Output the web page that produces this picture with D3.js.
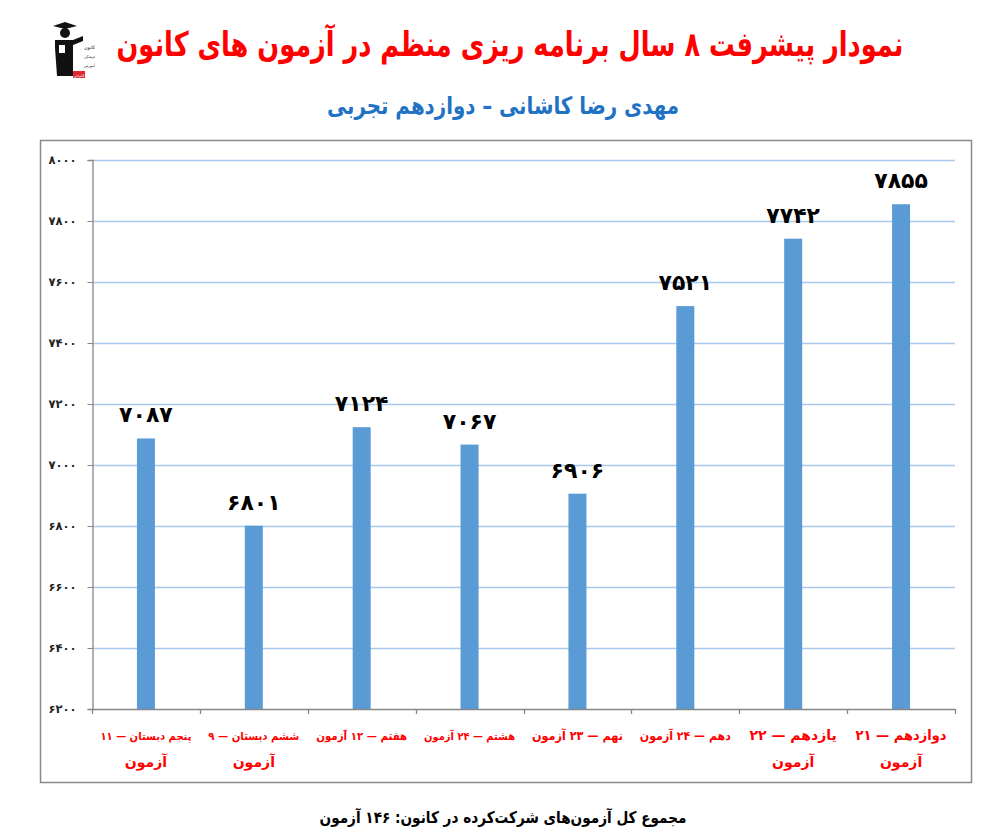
<!DOCTYPE html>
<html><head><meta charset="utf-8">
<script src="https://cdn.jsdelivr.net/npm/d3@7"></script>
<style>
html,body{margin:0;padding:0;background:#fff;}
svg{display:block;}
</style></head>
<body>
<svg id="chart" width="1006" height="840"></svg>
<script>
const categories = [
  ["پنجم دبستان — ۱۱", "آزمون"],
  ["ششم دبستان — ۹", "آزمون"],
  ["هفتم — ۱۲ آزمون"],
  ["هشتم — ۲۴ آزمون"],
  ["نهم — ۲۳ آزمون"],
  ["دهم — ۲۴ آزمون"],
  ["یازدهم — ۲۲", "آزمون"],
  ["دوازدهم — ۲۱", "آزمون"]
];
const values = [7087, 6801, 7124, 7067, 6906, 7521, 7742, 7855];
const yTicks = [6200, 6400, 6600, 6800, 7000, 7200, 7400, 7600, 7800, 8000];
const titleText = "نمودار پیشرفت ۸ سال برنامه ریزی منظم در آزمون های کانون";
const subtitleText = "مهدی رضا کاشانی – دوازدهم تجربی";
const footerText = "مجموع کل آزمون‌های شرکت‌کرده در کانون:  ۱۴۶ آزمون";

const fa = s => String(s).replace(/[0-9]/g, d => "۰۱۲۳۴۵۶۷۸۹"[+d]);
const FONT = "'DejaVu Sans', sans-serif";

const svg = d3.select("#chart");
const m = {left: 92, right: 955, top: 160, bottom: 709};

// fit a text element to a max width by horizontal compression
function fit(sel, maxW) {
  sel.each(function() {
    const w = this.getComputedTextLength();
    if (w > maxW) d3.select(this).attr("textLength", maxW).attr("lengthAdjust", "spacingAndGlyphs");
  });
}
// shrink font size so natural width stays within maxW
function shrink(sel, maxW) {
  sel.each(function() {
    const fs = parseFloat(d3.select(this).attr("font-size"));
    const w = this.getComputedTextLength();
    if (w > maxW) d3.select(this).attr("font-size", fs * maxW / w);
  });
}

// outer frame
svg.append("rect").attr("x", 40.5).attr("y", 140.5).attr("width", 931).attr("height", 642)
  .attr("fill", "none").attr("stroke", "#898989").attr("stroke-width", 1.5);

const x = d3.scaleBand().domain(d3.range(categories.length)).range([m.left, m.right]).paddingInner(0.833).paddingOuter(0.4165);
const y = d3.scaleLinear().domain([6200, 8000]).range([m.bottom, m.top]);

// gridlines
svg.append("g").selectAll("line").data(yTicks.slice(1)).join("line")
  .attr("x1", m.left).attr("x2", m.right)
  .attr("y1", d => Math.round(y(d)) + 0.5).attr("y2", d => Math.round(y(d)) + 0.5)
  .attr("stroke", "#a8c8ee").attr("stroke-width", 1.3);

// bars
svg.append("g").selectAll("rect").data(values).join("rect")
  .attr("x", (d, i) => x(i)).attr("width", x.bandwidth())
  .attr("y", d => y(d)).attr("height", d => y(6200) - y(d))
  .attr("fill", "#5b9bd5");

// value labels
svg.append("g").selectAll("text").data(values).join("text")
  .attr("x", (d, i) => x(i) + x.bandwidth() / 2).attr("y", d => y(d) - 16)
  .attr("text-anchor", "middle").attr("font-family", FONT).attr("font-weight", "bold")
  .attr("font-size", 22).attr("fill", "#000").text(d => fa(d));

// y axis
const yAxis = d3.axisLeft(y).tickValues(yTicks).tickSize(5).tickPadding(11).tickFormat(d => fa(d));
const gy = svg.append("g").attr("transform", `translate(${m.left + 0.5},0)`).call(yAxis);
gy.select(".domain").attr("stroke", "#868686").attr("stroke-width", 1.3);
gy.selectAll(".tick line").attr("stroke", "#868686");
gy.selectAll(".tick text").attr("font-family", FONT).attr("font-weight", "bold").attr("font-size", 11.5).attr("fill", "#222");

// x axis: line plus boundary ticks
const xLin = d3.scaleLinear().domain([0, categories.length]).range([m.left, m.right]);
const gx = svg.append("g");
gx.append("line").attr("x1", m.left).attr("x2", m.right).attr("y1", m.bottom + 0.5).attr("y2", m.bottom + 0.5)
  .attr("stroke", "#868686").attr("stroke-width", 1.3);
gx.selectAll("line.tk").data(d3.range(categories.length + 1)).join("line").attr("class", "tk")
  .attr("x1", d => Math.round(xLin(d)) + 0.5).attr("x2", d => Math.round(xLin(d)) + 0.5)
  .attr("y1", m.bottom).attr("y2", m.bottom + 5).attr("stroke", "#868686").attr("stroke-width", 1.3);

// category labels (one text element per line)
const labG = svg.append("g");
categories.forEach((lines, i) => {
  lines.forEach((ln, j) => {
    labG.append("text").attr("x", x(i) + x.bandwidth() / 2).attr("y", 740 + j * 27)
      .attr("text-anchor", "middle").attr("font-family", FONT).attr("font-weight", "bold")
      .attr("font-size", 14).attr("fill", "#ff0000").attr("direction", "rtl").text(ln)
      .call(shrink, 100).call(fit, 91);
  });
});

// titles
svg.append("text").attr("x", 510).attr("y", 56).attr("text-anchor", "middle")
  .attr("font-family", FONT).attr("font-weight", "bold").attr("font-size", 34)
  .attr("fill", "#ff0000").attr("direction", "rtl").text(titleText).call(fit, 787);
svg.append("text").attr("x", 503).attr("y", 114).attr("text-anchor", "middle")
  .attr("font-family", FONT).attr("font-weight", "bold").attr("font-size", 24)
  .attr("fill", "#1f72c4").attr("direction", "rtl").text(subtitleText).call(fit, 352);
svg.append("text").attr("x", 503).attr("y", 823).attr("text-anchor", "middle")
  .attr("font-family", FONT).attr("font-weight", "bold").attr("font-size", 16)
  .attr("fill", "#000").attr("direction", "rtl").text(footerText).call(fit, 367);

// logo (simple approximation)
const logo = svg.append("g").attr("transform", "translate(43,18)");
logo.append("path").attr("d", "M10,8 L22,4 L34,8 L22,11 Z").attr("fill", "#111");
logo.append("circle").attr("cx", 22).attr("cy", 15).attr("r", 5).attr("fill", "#111");
logo.append("path").attr("d", "M12,22 L30,22 L40,18 L40,23 L30,27 L30,58 L14,58 L12,30 Z").attr("fill", "#111");
logo.append("rect").attr("x", 16).attr("y", 27).attr("width", 6).attr("height", 8).attr("fill", "#fff");
const logoLines = ["کانون", "فرهنگی", "آموزش"];
logoLines.forEach((t, i) => {
  logo.append("text").attr("x", 41).attr("y", 31 + i * 9).attr("text-anchor", "end")
    .attr("font-family", FONT).attr("font-size", 6).attr("fill", "#222").attr("direction", "rtl").text(t)
    .call(shrink, 11);
});
logo.append("rect").attr("x", 30).attr("y", 53).attr("width", 12).attr("height", 7).attr("fill", "#e0282e");
logo.append("text").attr("x", 36).attr("y", 59).attr("text-anchor", "middle")
  .attr("font-family", FONT).attr("font-size", 5).attr("fill", "#fff").attr("direction", "rtl").text("قلم‌چی")
  .call(shrink, 11);
</script>
</body></html>
